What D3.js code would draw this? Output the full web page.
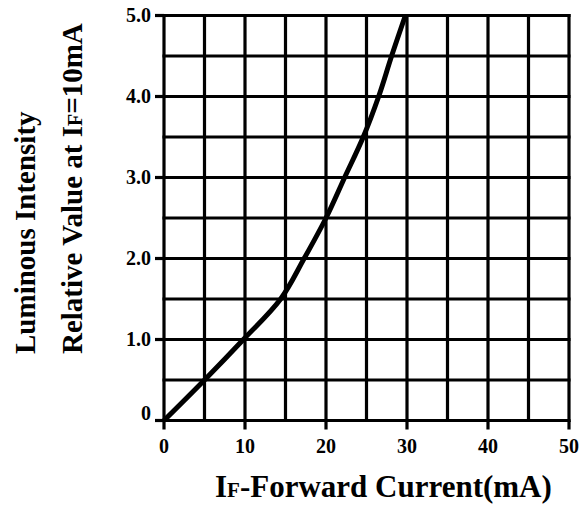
<!DOCTYPE html>
<html>
<head>
<meta charset="utf-8">
<script src="https://cdn.jsdelivr.net/npm/d3@7"></script>
<style>
  body { margin: 0; background: #fff; }
  svg text { font-family: "Liberation Serif", "Times New Roman", serif; font-weight: bold; fill: #000; }
</style>
</head>
<body>
<svg id="chart" width="587" height="510"></svg>
<script>
// forward current (mA) vs relative luminous intensity
const current = [0, 5, 9.8, 14.4, 17.3, 20, 22.3, 24.6, 26.5, 28.1, 29.8];
const intensity = [0, 0.5, 1.0, 1.5, 2.0, 2.5, 3.0, 3.5, 4.0, 4.5, 5.0];
const xTicks = [0, 10, 20, 30, 40, 50];
const yTicks = [0, 1, 2, 3, 4, 5];
const yTickLabels = ['0', '1.0', '2.0', '3.0', '4.0', '5.0'];

const svg = d3.select('#chart');

const x = d3.scaleLinear().domain([0, 50]).range([164, 569]);
const y = d3.scaleLinear().domain([0, 5]).range([420.5, 15.5]);

const grid = svg.append('g');

// vertical grid lines every 5 mA
grid.selectAll('line.v')
  .data(d3.range(0, 50.1, 5))
  .enter()
  .append('line')
  .attr('x1', d => x(d))
  .attr('x2', d => x(d))
  .attr('y1', y(5) - 1.5)
  .attr('y2', y(0) + 1.5)
  .attr('stroke', '#000')
  .attr('stroke-width', 3.2);

// horizontal grid lines every 0.5
grid.selectAll('line.h')
  .data(d3.range(0, 5.01, 0.5))
  .enter()
  .append('line')
  .attr('x1', x(0) - 1.5)
  .attr('x2', x(50) + 1.5)
  .attr('y1', d => y(d))
  .attr('y2', d => y(d))
  .attr('stroke', '#000')
  .attr('stroke-width', 3.2);

// tick stubs
grid.selectAll('line.xt')
  .data(xTicks)
  .enter()
  .append('line')
  .attr('x1', d => x(d))
  .attr('x2', d => x(d))
  .attr('y1', y(0))
  .attr('y2', y(0) + 9)
  .attr('stroke', '#000')
  .attr('stroke-width', 3.2);

grid.selectAll('line.yt')
  .data(yTicks)
  .enter()
  .append('line')
  .attr('x1', x(0) - 9)
  .attr('x2', x(0))
  .attr('y1', d => y(d))
  .attr('y2', d => y(d))
  .attr('stroke', '#000')
  .attr('stroke-width', 3.2);

// tick labels
svg.selectAll('text.xl')
  .data(xTicks)
  .enter()
  .append('text')
  .attr('x', d => x(d))
  .attr('y', y(0) + 32)
  .attr('text-anchor', 'middle')
  .style('font-size', '20px')
  .text(d => d);

svg.selectAll('text.yl')
  .data(yTicks)
  .enter()
  .append('text')
  .attr('x', 151)
  .attr('y', (d, i) => y(d) + (i === 0 ? -1 : 6))
  .attr('text-anchor', 'end')
  .style('font-size', '20px')
  .text((d, i) => yTickLabels[i]);

// curve
const line = d3.line()
  .x((d, i) => x(current[i]))
  .y(d => y(d))
  .curve(d3.curveCatmullRom.alpha(0.5));

svg.append('path')
  .datum(intensity)
  .attr('d', line)
  .attr('fill', 'none')
  .attr('stroke', '#000')
  .attr('stroke-width', 5);

// axis titles
const xt = svg.append('text')
  .attr('x', 215)
  .attr('y', 497)
  .style('font-size', '31px');
xt.append('tspan').text('I');
xt.append('tspan').style('font-size', '21px').text('F');
xt.append('tspan').text('-Forward Current(mA)');

svg.append('text')
  .attr('transform', 'translate(35,354) rotate(-90)')
  .style('font-size', '29px')
  .text('Luminous Intensity');

const yt2 = svg.append('text')
  .attr('transform', 'translate(82,354) rotate(-90)')
  .style('font-size', '29px');
yt2.append('tspan').text('Relative Value at I');
yt2.append('tspan').style('font-size', '20px').text('F');
yt2.append('tspan').text('=10mA');
</script>
</body>
</html>
